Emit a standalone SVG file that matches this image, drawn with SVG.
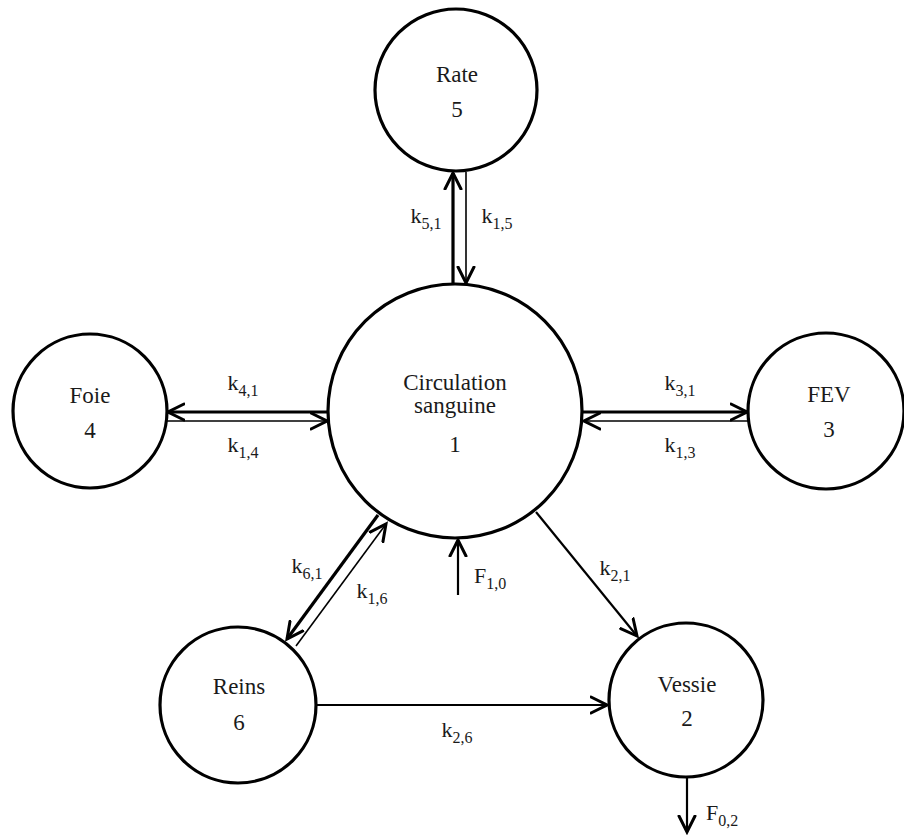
<svg xmlns="http://www.w3.org/2000/svg" width="904" height="836" viewBox="0 0 904 836">
<style>
  .node circle { fill: #fff; stroke: #000; stroke-width: 3.2; }
  text { font-family: 'Liberation Serif', 'Tinos', 'Times New Roman', 'DejaVu Serif', serif; }
  .lbl { font-size: 23px; fill: #1a1a1a; text-anchor: middle; }
  .k { font-size: 22px; fill: #1a1a1a; text-anchor: middle; }
  .sub { font-size: 16px; }
  .thick { stroke: #000; stroke-width: 3.2; fill: none; }
  .thin { stroke: #000; stroke-width: 1.6; fill: none; }
  .mid { stroke: #000; stroke-width: 2.2; fill: none; }
</style>
<defs>
  <marker id="ah" viewBox="0 0 20 20" refX="17" refY="10" markerWidth="20" markerHeight="20" markerUnits="userSpaceOnUse" orient="auto">
    <path d="M1,2 L17,10 L1,18" fill="none" stroke="#000" stroke-width="3" stroke-linejoin="miter" stroke-linecap="round"/>
  </marker>
</defs>
<rect width="904" height="836" fill="#fff"/>

<g id="connectors">
  <line class="thick" x1="453" y1="284" x2="453" y2="173" marker-end="url(#ah)"/>
  <line class="thin" x1="466" y1="172" x2="466" y2="283" marker-end="url(#ah)"/>
  <line class="thick" x1="328" y1="412" x2="168" y2="412" marker-end="url(#ah)"/>
  <line class="thin" x1="167" y1="421" x2="327" y2="421" marker-end="url(#ah)"/>
  <line class="thick" x1="582" y1="412" x2="747" y2="412" marker-end="url(#ah)"/>
  <line class="thin" x1="748" y1="421" x2="584" y2="421" marker-end="url(#ah)"/>
  <line class="thick" x1="378" y1="515" x2="287" y2="639" marker-end="url(#ah)"/>
  <line class="thin" x1="296" y1="646" x2="386" y2="524" marker-end="url(#ah)"/>
  <line class="mid" x1="536" y1="512" x2="637" y2="636" marker-end="url(#ah)"/>
  <line class="mid" x1="458" y1="595" x2="458" y2="540" marker-end="url(#ah)"/>
  <line class="mid" x1="316" y1="705" x2="607" y2="705" marker-end="url(#ah)"/>
  <line class="mid" x1="687" y1="777" x2="687" y2="832" marker-end="url(#ah)"/>

  <text class="k" x="426" y="223">k<tspan class="sub" dy="6">5,1</tspan></text>
  <text class="k" x="497" y="223">k<tspan class="sub" dy="6">1,5</tspan></text>
  <text class="k" x="243" y="390">k<tspan class="sub" dy="6">4,1</tspan></text>
  <text class="k" x="243" y="452">k<tspan class="sub" dy="6">1,4</tspan></text>
  <text class="k" x="680" y="390">k<tspan class="sub" dy="6">3,1</tspan></text>
  <text class="k" x="680" y="452">k<tspan class="sub" dy="6">1,3</tspan></text>
  <text class="k" x="307" y="573">k<tspan class="sub" dy="6">6,1</tspan></text>
  <text class="k" x="372" y="598">k<tspan class="sub" dy="6">1,6</tspan></text>
  <text class="k" x="490" y="583">F<tspan class="sub" dy="6">1,0</tspan></text>
  <text class="k" x="615" y="575">k<tspan class="sub" dy="6">2,1</tspan></text>
  <text class="k" x="457" y="737">k<tspan class="sub" dy="6">2,6</tspan></text>
  <text class="k" x="722" y="820">F<tspan class="sub" dy="6">0,2</tspan></text>
</g>

<g id="node-rate" class="node">
  <circle cx="456" cy="90" r="81"/>
  <text class="lbl" x="457" y="82">Rate</text>
  <text class="lbl" x="457" y="117">5</text>
</g>
<g id="node-circulation" class="node">
  <circle cx="455" cy="411" r="127"/>
  <text class="lbl" x="455" y="390">Circulation</text>
  <text class="lbl" x="455" y="413">sanguine</text>
  <text class="lbl" x="455" y="452">1</text>
</g>
<g id="node-foie" class="node">
  <circle cx="90" cy="411" r="77"/>
  <text class="lbl" x="90" y="403">Foie</text>
  <text class="lbl" x="90" y="438">4</text>
</g>
<g id="node-fev" class="node">
  <circle cx="826" cy="411" r="78"/>
  <text class="lbl" x="829" y="402">FEV</text>
  <text class="lbl" x="829" y="437">3</text>
</g>
<g id="node-reins" class="node">
  <circle cx="238" cy="705" r="78"/>
  <text class="lbl" x="239" y="694">Reins</text>
  <text class="lbl" x="239" y="730">6</text>
</g>
<g id="node-vessie" class="node">
  <circle cx="686" cy="700" r="77"/>
  <text class="lbl" x="687" y="692">Vessie</text>
  <text class="lbl" x="687" y="726">2</text>
</g>
</svg>
